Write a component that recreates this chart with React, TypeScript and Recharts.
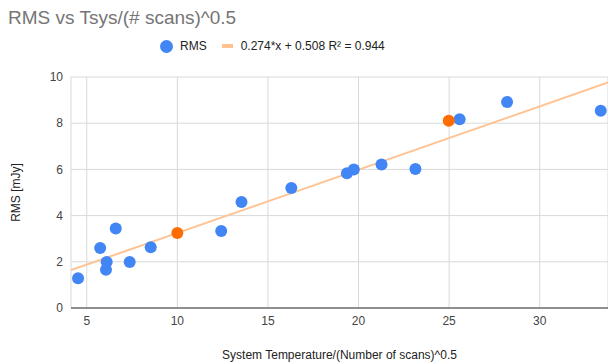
import {
  CartesianGrid,
  Scatter,
  ScatterChart,
  XAxis,
  YAxis,
} from "recharts";

// measured points (x = Tsys/sqrt(scans), y = RMS in mJy)
const rmsX = [4.52, 5.74, 6.1, 6.06, 6.6, 7.37, 8.53, 12.42, 13.54, 16.29, 19.36, 19.74, 21.27, 23.14, 25.58, 28.2, 33.37];
const rmsY = [1.29, 2.6, 1.99, 1.66, 3.44, 1.99, 2.63, 3.33, 4.59, 5.19, 5.83, 6.0, 6.21, 6.02, 8.17, 8.92, 8.54];

// the two highlighted points
const highlightX = [10.0, 24.98];
const highlightY = [3.25, 8.11];

// trendline from the legend
const slope = 0.274;
const intercept = 0.508;
const rSquared = 0.944;

const xDomain: [number, number] = [4.13, 33.77];
const xTicks = [5, 10, 15, 20, 25, 30];
const yTicks = [0, 2, 4, 6, 8, 10];

const BLUE = "#4285f4";
const ORANGE = "#ff6d01";
const TREND = "#ffc393";

const rmsData = rmsX.map((x, i) => ({ x, y: rmsY[i] }));
const highlightData = highlightX.map((x, i) => ({ x, y: highlightY[i] }));
const trendData = xDomain.map((x) => ({ x, y: slope * x + intercept }));

const font = "Arial, 'Liberation Sans', sans-serif";

export default function App() {
  return (
    <div
      style={{
        position: "fixed",
        left: 0,
        top: 0,
        width: 608,
        height: 362,
        background: "#fff",
        fontFamily: font,
        overflow: "hidden",
      }}
    >
      <div
        style={{
          position: "absolute",
          left: 8,
          top: 7,
          fontSize: 19,
          color: "#757575",
        }}
      >
        RMS vs Tsys/(# scans)^0.5
      </div>
      <div
        style={{
          position: "absolute",
          left: 160,
          top: 39,
          display: "flex",
          alignItems: "center",
          fontSize: 12,
          color: "#222",
        }}
      >
        <span
          style={{
            width: 13,
            height: 13,
            borderRadius: "50%",
            background: BLUE,
            display: "inline-block",
          }}
        />
        <span style={{ marginLeft: 7 }}>RMS</span>
        <span
          style={{
            width: 11,
            height: 4,
            background: TREND,
            display: "inline-block",
            marginLeft: 15,
          }}
        />
        <span style={{ marginLeft: 8 }}>
          {`${slope}*x + ${intercept} R² = ${rSquared}`}
        </span>
      </div>
      <div style={{ position: "absolute", left: 0, top: 0 }}>
        <ScatterChart
          width={608}
          height={362}
          margin={{ top: 77, right: 0, bottom: 0, left: 0 }}
        >
          <CartesianGrid stroke="#d9d9d9" />
          <XAxis
            type="number"
            dataKey="x"
            domain={xDomain}
            ticks={xTicks}
            allowDataOverflow
            height={54}
            tickSize={0}
            tickMargin={8}
            axisLine={{ stroke: "#333", strokeWidth: 1 }}
            tick={{ fill: "#444", fontSize: 12, fontFamily: font }}
            label={{
              value: "System Temperature/(Number of scans)^0.5",
              position: "insideBottom",
              offset: 3,
              fill: "#222",
              fontSize: 12,
              fontFamily: font,
            }}
          />
          <YAxis
            type="number"
            dataKey="y"
            domain={[0, 10]}
            ticks={yTicks}
            width={71}
            tickSize={0}
            tickMargin={8}
            axisLine={false}
            tick={{ fill: "#444", fontSize: 12, fontFamily: font }}
            label={{
              value: "RMS [mJy]",
              angle: -90,
              position: "insideLeft",
              offset: 16,
              fill: "#222",
              fontSize: 12,
              fontFamily: font,
              style: { textAnchor: "middle" },
            }}
          />
          <Scatter
            data={trendData}
            line={{ stroke: TREND, strokeWidth: 2 }}
            shape={() => null}
            legendType="none"
            isAnimationActive={false}
          />
          <Scatter
            name="RMS"
            data={rmsData}
            fill={BLUE}
            shape={(p: any) => <circle cx={p.cx} cy={p.cy} r={6} fill={BLUE} />}
            isAnimationActive={false}
          />
          <Scatter
            data={highlightData}
            fill={ORANGE}
            shape={(p: any) => <circle cx={p.cx} cy={p.cy} r={6} fill={ORANGE} />}
            legendType="none"
            isAnimationActive={false}
          />
        </ScatterChart>
      </div>
    </div>
  );
}
